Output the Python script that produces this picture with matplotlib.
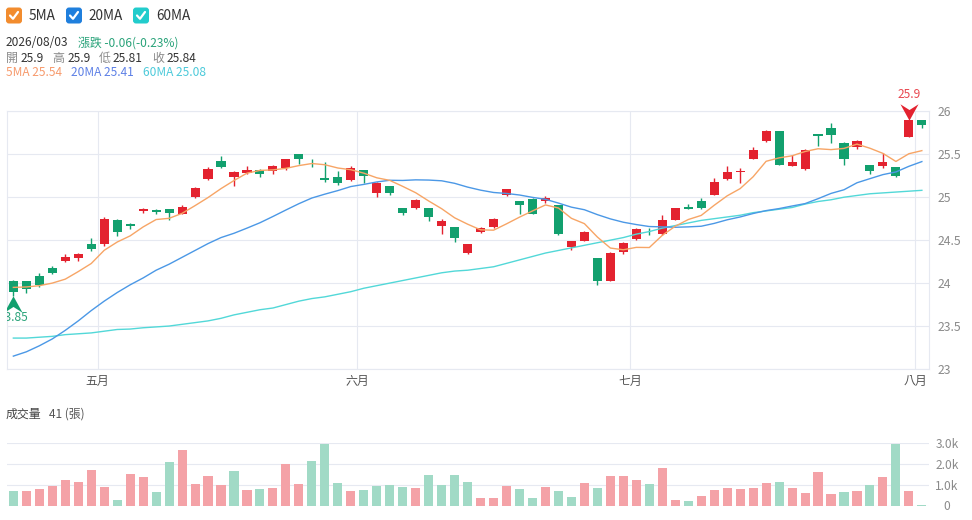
import numpy as np
import pandas as pd
import matplotlib
matplotlib.use('Agg')
import matplotlib.pyplot as plt
import matplotlib.transforms as mtrans
from matplotlib.path import Path
from matplotlib.patches import FancyBboxPatch
from matplotlib.ticker import FuncFormatter

plt.rcParams['font.family'] = ['Noto Sans CJK TC', 'DejaVu Sans']

# daily OHLC (last 71 trading days)
opens = [24.03, 24.02, 24.08, 24.17, 24.26, 24.29, 24.45, 24.45, 24.74, 24.69,
         24.845, 24.85, 24.86, 24.80, 25.00, 25.21, 25.42, 25.24, 25.28, 25.32,
         25.30, 25.34, 25.50, 25.45, 25.22, 25.24, 25.20, 25.32, 25.05, 25.13,
         24.88, 24.87, 24.88, 24.67, 24.65, 24.35, 24.59, 24.65, 25.03, 24.95,
         24.98, 24.95, 24.91, 24.42, 24.49, 24.29, 24.03, 24.36, 24.51, 24.60,
         24.57, 24.74, 24.89, 24.95, 25.03, 25.21, 25.29, 25.45, 25.65, 25.77,
         25.36, 25.33, 25.74, 25.80, 25.63, 25.59, 25.38, 25.36, 25.35, 25.70,
         25.90]
highs = [24.04, 24.02, 24.12, 24.20, 24.34, 24.35, 24.52, 24.77, 24.75, 24.70,
         24.88, 24.86, 24.86, 24.91, 25.12, 25.35, 25.48, 25.31, 25.36, 25.33,
         25.37, 25.45, 25.50, 25.45, 25.41, 25.31, 25.36, 25.32, 25.18, 25.13,
         24.88, 24.98, 24.88, 24.75, 24.65, 24.46, 24.65, 24.76, 25.10, 24.95,
         24.99, 25.01, 24.91, 24.49, 24.61, 24.29, 24.36, 24.48, 24.64, 24.64,
         24.79, 24.88, 24.92, 24.99, 25.22, 25.36, 25.34, 25.58, 25.78, 25.77,
         25.49, 25.56, 25.74, 25.86, 25.64, 25.67, 25.38, 25.51, 25.35, 25.90,
         25.90]
lows = [23.85, 23.88, 23.96, 24.11, 24.25, 24.26, 24.37, 24.43, 24.55, 24.63,
        24.82, 24.81, 24.74, 24.80, 24.99, 25.20, 25.34, 25.13, 25.27, 25.23,
        25.27, 25.32, 25.39, 25.35, 25.18, 25.14, 25.19, 25.16, 25.00, 25.03,
        24.79, 24.86, 24.72, 24.57, 24.48, 24.34, 24.58, 24.64, 25.01, 24.81,
        24.80, 24.93, 24.56, 24.39, 24.49, 23.98, 24.03, 24.34, 24.50, 24.56,
        24.56, 24.74, 24.86, 24.86, 25.02, 25.20, 25.17, 25.44, 25.64, 25.37,
        25.36, 25.32, 25.60, 25.63, 25.37, 25.56, 25.27, 25.34, 25.24, 25.70,
        25.81]
closes = [23.90, 23.93, 23.98, 24.12, 24.30, 24.34, 24.40, 24.75, 24.60, 24.66,
          24.86, 24.83, 24.82, 24.89, 25.11, 25.33, 25.35, 25.29, 25.32, 25.27,
          25.36, 25.44, 25.45, 25.44, 25.20, 25.17, 25.34, 25.25, 25.17, 25.05,
          24.82, 24.97, 24.77, 24.72, 24.52, 24.45, 24.64, 24.75, 25.09, 24.91,
          24.81, 24.99, 24.57, 24.49, 24.60, 24.03, 24.35, 24.47, 24.63, 24.59,
          24.74, 24.88, 24.86, 24.87, 25.18, 25.29, 25.30, 25.55, 25.77, 25.38,
          25.41, 25.55, 25.71, 25.72, 25.45, 25.66, 25.31, 25.41, 25.25, 25.90,
          25.84]
# volume in 張
volumes = [710, 700, 790, 950, 1240, 1140, 1710, 890, 250, 1520,
           1370, 630, 2100, 2670, 1030, 1400, 1000, 1680, 750, 780,
           840, 2000, 1050, 2130, 2970, 1100, 700, 730, 950, 970,
           900, 860, 1480, 980, 1490, 1110, 370, 350, 950, 790,
           350, 890, 680, 400, 1100, 860, 1410, 1410, 1220, 1020,
           1810, 250, 210, 460, 760, 840, 790, 860, 1100, 1140,
           860, 600, 1630, 540, 670, 700, 1000, 1370, 2970, 710,
           41]

# moving-average values before enough closes are on screen
ma5_head = [23.95, 23.955, 23.97, 24.00]
ma20_head = [23.15, 23.20, 23.27, 23.35, 23.45, 23.56, 23.68, 23.79, 23.89, 23.98,
             24.06, 24.15, 24.22, 24.30, 24.38, 24.46, 24.53, 24.58, 24.64]
ma60 = [23.36, 23.36, 23.37, 23.38, 23.40, 23.41, 23.42, 23.44, 23.46, 23.465,
        23.48, 23.49, 23.50, 23.52, 23.54, 23.56, 23.59, 23.63, 23.66, 23.69,
        23.71, 23.75, 23.79, 23.82, 23.84, 23.87, 23.90, 23.94, 23.97, 24.00,
        24.03, 24.06, 24.09, 24.12, 24.14, 24.15, 24.17, 24.19, 24.23, 24.27,
        24.31, 24.35, 24.38, 24.41, 24.44, 24.47, 24.50, 24.53, 24.57, 24.60,
        24.64, 24.67, 24.70, 24.73, 24.75, 24.77, 24.79, 24.82, 24.84, 24.86,
        24.88, 24.92, 24.95, 24.97, 25.00, 25.02, 25.04, 25.05, 25.06, 25.07,
        25.08]

last_date = '2026/08/03'
month_labels = ['五月', '六月', '七月', '八月']
month_first_idx = [7, 27, 48, 70]

# ---- derived
n = len(closes)
xs = np.arange(n)
o = np.array(opens); h = np.array(highs); l = np.array(lows); c = np.array(closes)
cs = pd.Series(closes)
ma5 = cs.rolling(5).mean().to_numpy()
ma5[:len(ma5_head)] = ma5_head
ma20 = cs.rolling(20).mean().to_numpy()
ma20[:len(ma20_head)] = ma20_head

RED, GREEN = '#e3222f', '#12a06e'
VRED, VGREEN = '#f4a2a7', '#a1dac6'
C5, C20, C60 = '#f7a566', '#4b98e6', '#52d8d8'
GRID = '#e6e9f1'

up = c >= o
candle_col = np.where(up, RED, GREEN)
prev = np.concatenate([[np.nan], c[:-1]])
vol_up = np.where(np.isnan(prev), up, c >= prev)
vol_col = np.where(vol_up, VRED, VGREEN)

W, H = 972, 520
fig = plt.figure(figsize=(W / 100, H / 100), dpi=100)

# ---- price panel
ax = fig.add_axes([7 / W, 1 - 369 / H, 922 / W, (369 - 111.3) / H])
ax.set_xlim(-0.49, n - 0.45)
ax.set_ylim(23, 26)
ax.vlines(xs, l, h, colors=candle_col, linewidth=1, zorder=3)
body = np.maximum(np.abs(c - o), 0.008)
ax.bar(xs, body, bottom=np.minimum(o, c), width=0.7, color=candle_col, zorder=4)
ax.plot(xs, ma60, color=C60, lw=1.0, zorder=5)
ax.plot(xs, ma20, color=C20, lw=1.0, zorder=5)
ax.plot(xs, ma5, color=C5, lw=1.0, zorder=5)

ax.set_yticks(np.arange(23, 26.01, 0.5))
ax.yaxis.set_major_formatter(FuncFormatter(lambda v, p: f'{v:g}'))
ax.yaxis.tick_right()
ax.tick_params(axis='y', length=0, pad=6, labelsize=8.8, labelcolor='#8a8a8a')
ax.set_xticks(np.array(month_first_idx) - 0.5)
ax.set_xticklabels(month_labels)
ax.tick_params(axis='x', length=0, pad=4, labelsize=8.6, labelcolor='#555555')
ax.grid(True, color=GRID, lw=0.8)
ax.set_axisbelow(True)
for s in ax.spines.values():
    s.set_color(GRID)
    s.set_linewidth(0.8)

# max / min markers
arrow_up = Path([(0, 0.5), (0.55, -0.5), (0, -0.15), (-0.55, -0.5), (0, 0.5)],
                [Path.MOVETO, Path.LINETO, Path.LINETO, Path.LINETO, Path.CLOSEPOLY])
arrow_dn = Path([(0, -0.5), (0.55, 0.5), (0, 0.15), (-0.55, 0.5), (0, -0.5)],
                [Path.MOVETO, Path.LINETO, Path.LINETO, Path.LINETO, Path.CLOSEPOLY])
i_min, i_max = int(np.argmin(l)), int(np.argmax(h))
t_lo = mtrans.offset_copy(ax.transData, fig=fig, x=0, y=-8, units='dots')
ax.plot(i_min, l[i_min], marker=arrow_up, ms=13, color=GREEN, mew=0,
        transform=t_lo, zorder=6)
t_lo2 = mtrans.offset_copy(ax.transData, fig=fig, x=0, y=-22, units='dots')
ax.text(i_min, l[i_min], f'{l[i_min]:g}', transform=t_lo2, ha='center', va='center',
        fontsize=8.6, color='#2aa37a', clip_on=True)
t_hi = mtrans.offset_copy(ax.transData, fig=fig, x=0, y=8, units='dots')
ax.plot(i_max, h[i_max], marker=arrow_dn, ms=13, color=RED, mew=0,
        transform=t_hi, zorder=6, clip_on=False)
t_hi2 = mtrans.offset_copy(ax.transData, fig=fig, x=0, y=25, units='dots')
ax.text(i_max, h[i_max], f'{h[i_max]:g}', transform=t_hi2, ha='center', va='center',
        fontsize=8.6, color='#e8474f', clip_on=False)

# ---- volume panel
vax = fig.add_axes([7 / W, 1 - 505.5 / H, 922 / W, (505.5 - 443.3) / H])
vax.set_xlim(-0.49, n - 0.45)
vax.set_ylim(0, 3000)
vax.bar(xs, volumes, width=0.7, color=vol_col, zorder=3)
vax.set_yticks([0, 1000, 2000, 3000])
vax.yaxis.set_major_formatter(FuncFormatter(lambda v, p: '0' if v == 0 else f'{v / 1000:.1f}k'))
vax.yaxis.tick_right()
vax.tick_params(axis='y', length=0, pad=13, labelsize=8.6, labelcolor='#8a8a8a')
for t in vax.get_yticklabels():
    t.set_ha('center')
vax.set_xticks([])
vax.grid(True, axis='y', color=GRID, lw=0.8)
vax.set_axisbelow(True)
for s in vax.spines.values():
    s.set_visible(False)

# ---- header overlay (pixel coordinates)
ov = fig.add_axes([0, 0, 1, 1])
ov.set_xlim(0, W)
ov.set_ylim(H, 0)
ov.axis('off')
ov.patch.set_visible(False)

legend_items = [('5MA', '#f28c2e', 6, 29), ('20MA', '#1f7fdd', 66, 88), ('60MA', '#22cccc', 133, 156)]
for name, col, bx, tx in legend_items:
    ov.add_patch(FancyBboxPatch((bx, 7.5), 16, 16, boxstyle='round,pad=0,rounding_size=3',
                                fc=col, ec='none'))
    ov.plot([bx + 4, bx + 7, bx + 12], [15.5, 18.8, 12], color='white', lw=1.6,
            solid_capstyle='round', solid_joinstyle='round')
    ov.text(tx, 16, name, fontsize=9.8, color='#333333', va='center', ha='left')

chg = c[-1] - c[-2]
pct = chg / c[-2] * 100
fs = 8.6
ov.text(6, 43, last_date, fontsize=fs, color='#333333', va='center')
ov.text(78, 43, f'漲跌 {chg:.2f}({pct:.2f}%)', fontsize=fs, color='#2aa37a', va='center')

for lab, val, lx, vx in [('開', o[-1], 6, 20.5), ('高', h[-1], 52.5, 67.5),
                         ('低', l[-1], 99, 113), ('收', c[-1], 152.5, 166.5)]:
    ov.text(lx, 58.5, lab, fontsize=fs, color='#8a8a8a', va='center')
    ov.text(vx, 58.5, f'{val:g}', fontsize=fs, color='#333333', va='center')

ov.text(6, 73, f'5MA {ma5[-1]:.2f}', fontsize=fs, color='#f79a6c', va='center')
ov.text(71, 73, f'20MA {ma20[-1]:.2f}', fontsize=fs, color='#5d80e6', va='center')
ov.text(143, 73, f'60MA {ma60[-1]:.2f}', fontsize=fs, color='#4ccada', va='center')

ov.text(6, 414, '成交量', fontsize=fs, color='#444444', va='center')
ov.text(49, 414, f'{volumes[-1]} (張)', fontsize=fs, color='#555555', va='center')

fig.savefig('out.png', dpi=100)
